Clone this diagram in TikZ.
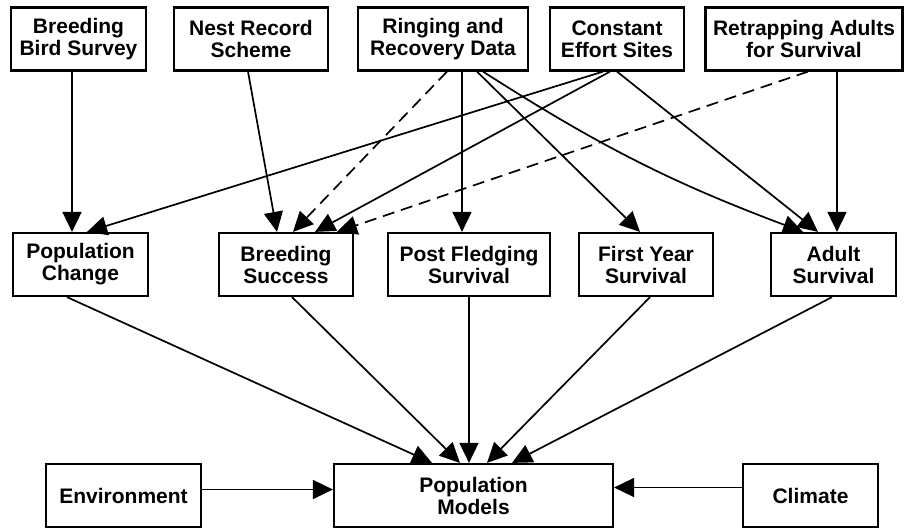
\documentclass[tikz,border=0pt]{standalone}
\usepackage{fontspec}
\setmainfont{Liberation Sans}
\usetikzlibrary{arrows.meta}
\newcommand{\databox}[5]{%
\node[box, minimum width=#4] (#1) at (#2,#3) {#5};
}
\newcommand{\linkto}[5]{%
\draw[#1] ([xshift=#3pt]#2.south) -- ([xshift=#5pt]#4.north);
}

\begin{document}
\begin{tikzpicture}[x=1pt, y=-1pt,
  box/.style={draw, line width=2.2pt, minimum height=63pt, inner sep=2pt, align=center, font=\fontsize{21}{22}\selectfont\bfseries},
  link/.style={line width=1.7pt, -{Triangle[length=20pt,width=19pt]}},
  dashlink/.style={link, dash pattern=on 12pt off 7pt}]

\useasboundingbox (0,0) rectangle (905,529);

\databox{bbs}{78.5}{39}{135pt}{Breeding\\Bird Survey}
\databox{nrs}{251}{39}{154pt}{Nest Record\\Scheme}
\databox{rrd}{443}{39}{170pt}{Ringing and\\Recovery Data}
\databox{ces}{617}{39}{134pt}{Constant\\Effort Sites}
\databox{rta}{804}{39}{197pt}{Retrapping Adults\\for Survival}

\databox{pc}{80.5}{264.5}{135pt}{Population\\Change}
\databox{bs}{286}{264.5}{134pt}{Breeding\\Success}
\databox{pfs}{469}{264.5}{162pt}{Post Fledging\\Survival}
\databox{fys}{646}{264.5}{134pt}{First Year\\Survival}
\databox{as}{833.5}{264.5}{125pt}{Adult\\Survival}

\databox{env}{123.5}{495.5}{155pt}{Environment}
\databox{pm}{473.5}{495.5}{279pt}{Population\\Models}
\databox{cli}{810.5}{495.5}{135pt}{Climate}

\linkto{link}{bbs}{-6.5}{pc}{-8.5}
\linkto{link}{nrs}{-3}{bs}{-9}
\linkto{dashlink}{rrd}{4}{bs}{7}
\linkto{link}{rrd}{19}{pfs}{-7}
\linkto{link}{rrd}{34}{fys}{-6}
\draw[link] ([xshift=40pt]rrd.south) to[bend right=6] ([xshift=-30.5pt]as.north);
\linkto{link}{ces}{-14}{pc}{6.5}
\linkto{link}{ces}{-7}{bs}{29}
\linkto{link}{ces}{0}{as}{-15.5}
\linkto{dashlink}{rta}{4}{bs}{51}
\linkto{link}{rta}{33}{as}{3.5}

\foreach \src/\s/\e in {pc/-13.5/-41.5, bs/6/-13.5, pfs/0/-4.5, fys/4/13.5, as/-1.5/38.5}
{
\linkto{link}{\src}{\s}{pm}{\e}
}

\draw[link] ([yshift=6pt]env.east) -- ([yshift=6pt]pm.west);
\draw[link] ([yshift=8pt]cli.west) -- ([yshift=8pt]pm.east);

\end{tikzpicture}
\end{document}
